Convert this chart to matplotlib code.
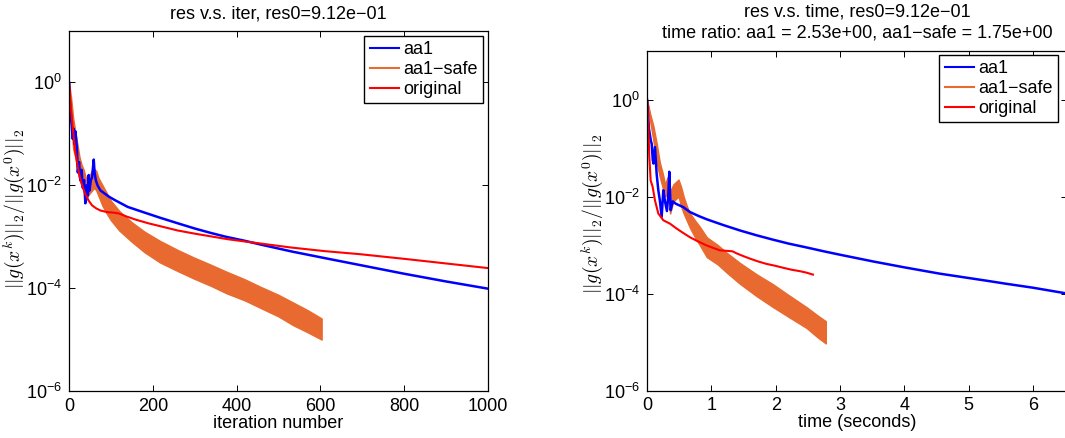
import numpy as np
import matplotlib
matplotlib.use("Agg")
import matplotlib.pyplot as plt
from matplotlib.lines import Line2D

plt.rcParams['font.family'] = ['Liberation Sans', 'DejaVu Sans']
plt.rcParams['mathtext.fontset'] = 'cm'
plt.rcParams['font.size'] = 13

BLUE = '#0000ff'
ORANGE = '#e86a30'
RED = '#ff0000'

# ---- left panel: residual vs iteration (values are log10 of relative residual) ----
iter_aa1 = [0, 3, 6, 9, 11, 13, 15, 17, 19, 21, 24, 27, 30, 33, 36, 39, 42, 45, 47, 49, 52,
            55, 59, 61, 64, 68, 75, 85, 95, 110, 140, 180, 217, 260, 300, 340, 374, 420, 456,
            533, 613, 694, 800, 900, 1000]
log_aa1 = [0, -0.5, -0.8, -1.1, -0.9, -1.2, -0.95, -1.1, -1.3, -1.75, -1.55, -1.9, -1.7,
           -2.05, -1.9, -2.35, -2.0, -2.2, -1.8, -2.1, -1.9, -1.85, -1.5, -1.75, -1.9, -2.0,
           -2.1, -2.16, -2.22, -2.29, -2.42, -2.53, -2.63, -2.74, -2.84, -2.93, -3.0, -3.08,
           -3.15, -3.29, -3.42, -3.55, -3.72, -3.87, -4.01]

iter_safe = [0, 5, 10, 15, 20, 25, 30, 35, 40, 45, 50, 55, 60, 65, 70, 80, 90, 100, 120, 150,
             180, 217, 260, 297, 340, 376, 420, 456, 500, 535, 570, 603]
log_safe_hi = [0, -0.3, -0.7, -0.95, -1.2, -1.45, -1.6, -1.7, -1.85, -1.9, -1.8, -1.7, -1.68,
               -1.72, -1.85, -2.0, -2.15, -2.3, -2.5, -2.72, -2.9, -3.08, -3.26, -3.40, -3.55,
               -3.68, -3.83, -3.97, -4.13, -4.28, -4.43, -4.59]
log_safe_lo = [0, -0.8, -1.3, -1.45, -1.7, -1.9, -2.0, -2.1, -2.3, -2.2, -2.15, -2.1, -2.05,
               -2.1, -2.2, -2.4, -2.55, -2.68, -2.88, -3.1, -3.3, -3.5, -3.67, -3.81, -3.96,
               -4.10, -4.24, -4.38, -4.55, -4.72, -4.86, -5.0]

iter_orig = [0, 3, 7, 11, 15, 21, 27, 33, 39, 47, 55, 65, 75, 90, 105, 120, 135, 160, 190, 220,
             260, 300, 380, 455, 530, 610, 695, 800, 900, 1000]
log_orig = [0, -0.35, -0.70, -1.05, -1.35, -1.65, -1.88, -2.04, -2.17, -2.30, -2.39, -2.45,
            -2.49, -2.52, -2.53, -2.55, -2.60, -2.67, -2.74, -2.80, -2.88, -2.94, -3.05, -3.13,
            -3.21, -3.28, -3.34, -3.43, -3.52, -3.61]

# ---- right panel: residual vs time in seconds ----
time_aa1 = [0, 0.03, 0.06, 0.073, 0.09, 0.10, 0.124, 0.15, 0.176, 0.20, 0.228, 0.254, 0.28,
            0.31, 0.33, 0.347, 0.368, 0.40, 0.45, 0.5, 0.565, 0.668, 0.8, 0.93, 1.19, 1.446,
            1.705, 1.96, 2.2, 2.48, 2.75, 3.0, 3.52, 4.0, 4.55, 5.0, 5.3, 5.59, 6.0, 6.53]
tlog_aa1 = [0, -0.6, -0.85, -0.91, -1.25, -1.32, -0.98, -1.53, -1.87, -2.08, -2.42, -1.87,
            -2.1, -2.3, -2.0, -1.49, -2.28, -2.1, -2.15, -2.18, -2.22, -2.32, -2.40, -2.47,
            -2.59, -2.70, -2.80, -2.89, -2.97, -3.05, -3.13, -3.20, -3.34, -3.46, -3.59,
            -3.68, -3.74, -3.80, -3.88, -4.0]

time_safe = [0, 0.05, 0.10, 0.15, 0.20, 0.25, 0.28, 0.32, 0.36, 0.41, 0.45, 0.49, 0.53, 0.57,
             0.62, 0.67, 0.75, 0.82, 0.93, 1.1, 1.25, 1.446, 1.7, 1.96, 2.2, 2.48, 2.65, 2.78]
tlog_safe_hi = [0, -0.3, -0.55, -0.9, -1.3, -1.55, -1.75, -1.6, -1.9, -1.75, -1.7, -1.65,
                -1.8, -2.0, -2.2, -2.35, -2.5, -2.62, -2.84, -3.0, -3.17, -3.37, -3.6, -3.81,
                -4.03, -4.28, -4.45, -4.57]
tlog_safe_lo = [0, -0.45, -0.85, -1.3, -1.6, -1.85, -2.0, -1.95, -2.35, -2.1, -2.05, -2.0,
                -2.2, -2.35, -2.5, -2.65, -2.85, -3.0, -3.25, -3.4, -3.58, -3.80, -4.05,
                -4.28, -4.48, -4.71, -4.9, -5.03]

time_orig = [0, 0.02, 0.036, 0.057, 0.088, 0.124, 0.176, 0.254, 0.358, 0.46, 0.55, 0.668, 0.8,
             0.93, 1.05, 1.135, 1.24, 1.33, 1.39, 1.5, 1.6, 1.73, 1.86, 2.0, 2.12, 2.25, 2.38,
             2.48, 2.58]
tlog_orig = [0, -0.5, -1.18, -1.67, -1.80, -2.08, -2.35, -2.49, -2.56, -2.66, -2.74, -2.84,
             -2.93, -3.01, -3.07, -3.11, -3.12, -3.13, -3.17, -3.23, -3.28, -3.34, -3.39,
             -3.43, -3.47, -3.51, -3.54, -3.57, -3.61]

labels = ['aa1', 'aa1\u2212safe', 'original']
ylab = r'$||g(x^k)||_2/||g(x^0)||_2$'

W, H = 1065.0, 438.0


def style(ax, leg_corner, ylab_y):
    ax.set_yscale('log')
    ax.set_ylim(1e-6, 1e1)
    ax.set_yticks([1e-6, 1e-4, 1e-2, 1e0])
    ax.minorticks_off()
    ax.tick_params(direction='in', top=True, right=True, length=4.5, width=0.7, pad=5)
    for s in ax.spines.values():
        s.set_linewidth(0.9)
    ax.set_ylabel(ylab, fontsize=14)
    ax.yaxis.set_label_coords(-0.098, ylab_y)
    handles = [Line2D([], [], color=c, lw=1.5) for c in (BLUE, ORANGE, RED)]
    leg = ax.legend(handles, labels, loc='upper right',
                    bbox_to_anchor=(leg_corner[0] / W, 1 - leg_corner[1] / H),
                    bbox_transform=ax.figure.transFigure, borderaxespad=0,
                    fancybox=False, edgecolor='black', framealpha=1, borderpad=0.3,
                    handlelength=1.6, handletextpad=0.25, labelspacing=0.15)
    leg.get_frame().set_linewidth(1.0)


fig = plt.figure(figsize=(10.65, 4.38), dpi=100)

ax1 = fig.add_axes([0.0648, 0.1073, 0.3934, 0.8219])
ax1.fill_between(iter_safe, 10.0 ** np.array(log_safe_lo), 10.0 ** np.array(log_safe_hi),
                 color=ORANGE, lw=1.0, edgecolor=ORANGE)
ax1.plot(iter_aa1, 10.0 ** np.array(log_aa1), color=BLUE, lw=1.8)
ax1.plot(iter_orig, 10.0 ** np.array(log_orig), color=RED, lw=1.5)
ax1.set_xlim(0, 1000)
ax1.set_xticks([0, 200, 400, 600, 800, 1000])
ax1.set_xlabel('iteration number', labelpad=0)
ax1.set_title('res v.s. iter, res0=9.12e\u221201', fontsize=13, pad=9)
style(ax1, (483, 36), 0.507)

ax2 = fig.add_axes([0.6075, 0.1084, 0.3944, 0.7751])
ax2.fill_between(time_safe, 10.0 ** np.array(tlog_safe_lo), 10.0 ** np.array(tlog_safe_hi),
                 color=ORANGE, lw=1.0, edgecolor=ORANGE)
ax2.plot(time_aa1, 10.0 ** np.array(tlog_aa1), color=BLUE, lw=1.8)
ax2.plot(time_orig, 10.0 ** np.array(tlog_orig), color=RED, lw=1.5)
ax2.set_xlim(0, 6.53)
ax2.set_xticks([0, 1, 2, 3, 4, 5, 6])
ax2.set_xlabel('time (seconds)', labelpad=0)
ax2.set_title('res v.s. time, res0=9.12e\u221201\n'
              'time ratio: aa1 = 2.53e+00, aa1\u2212safe = 1.75e+00',
              fontsize=13, pad=10, linespacing=1.3)
style(ax2, (1058, 55), 0.521)

fig.savefig('out.png', dpi=100)
